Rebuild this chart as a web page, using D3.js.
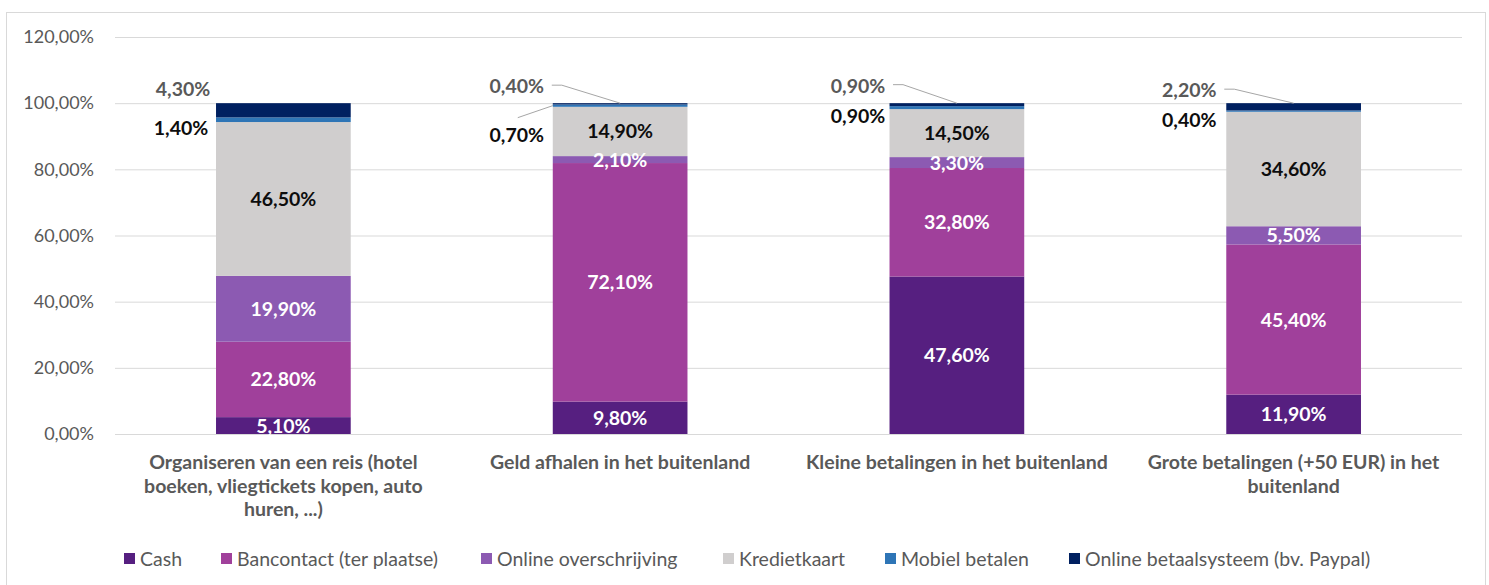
<!DOCTYPE html>
<html>
<head>
<meta charset="utf-8">
<script src="https://cdn.jsdelivr.net/npm/d3@7/dist/d3.min.js"></script>
<style>
  html, body { margin: 0; padding: 0; background: #fff; }
  svg { display: block; font-family: Lato, "Open Sans", sans-serif; }
</style>
</head>
<body>
<svg id="chart" width="1489" height="585"></svg>
<script>
// ---- data ----
const categories = [
  "Organiseren van een reis (hotel boeken, vliegtickets kopen, auto huren, ...)",
  "Geld afhalen in het buitenland",
  "Kleine betalingen in het buitenland",
  "Grote betalingen (+50 EUR) in het buitenland"
];
const categoryLines = [
  ["Organiseren van een reis (hotel", "boeken, vliegtickets kopen, auto", "huren, ...)"],
  ["Geld afhalen in het buitenland"],
  ["Kleine betalingen in het buitenland"],
  ["Grote betalingen (+50 EUR) in het", "buitenland"]
];
const seriesNames = ["Cash", "Bancontact (ter plaatse)", "Online overschrijving", "Kredietkaart", "Mobiel betalen", "Online betaalsysteem (bv. Paypal)"];
const cash = [5.1, 9.8, 47.6, 11.9];
const bancontact = [22.8, 72.1, 32.8, 45.4];
const onlineOverschrijving = [19.9, 2.1, 3.3, 5.5];
const kredietkaart = [46.5, 14.9, 14.5, 34.6];
const mobielBetalen = [1.4, 0.7, 0.9, 0.4];
const onlineBetaalsysteem = [4.3, 0.4, 0.9, 2.2];
const yTicks = [0, 20, 40, 60, 80, 100, 120];

// ---- styles / layout ----
const colors = ["#561F80", "#A0409B", "#8C5AB2", "#D0CECE", "#2E75B6", "#002060"];
const insideLabelColors = ["#ffffff", "#ffffff", "#ffffff", "#0d0d0d"];
// manual label placement (offsets from bar left edge and the 100% line)
const mobielLabelPos = [[-35, 25], [-36, 31.5], [-31.5, 13], [-37, 17]];
const paypalLabelPos = [[-33, -14], [-36, -17], [-31.5, -17.5], [-37, -13]];
const paypalLeader = [false, true, true, true];
const mobielLeader = [false, true, false, false];

const seriesValues = [cash, bancontact, onlineOverschrijving, kredietkaart, mobielBetalen, onlineBetaalsysteem];
const fmt = v => d3.format(".2f")(v).replace(".", ",") + "%";

const svg = d3.select("#chart");
const W = 1489, H = 585;
const margin = { left: 115, right: 27, top: 37, bottom: 151 };
const plotW = W - margin.left - margin.right;

// outer border
svg.append("rect").attr("x", 6.5).attr("y", 12.5).attr("width", 1479).attr("height", 590)
  .attr("fill", "#fff").attr("stroke", "#D9D9D9").attr("stroke-width", 1);

const x = d3.scaleBand().domain(categories).range([margin.left, margin.left + plotW]).paddingInner(0.6).paddingOuter(0.3);
const y = d3.scaleLinear().domain([0, 120]).range([434, 37]);

// gridlines
const yAxis = d3.axisLeft(y).tickValues(yTicks).tickSize(-plotW).tickFormat(fmt).tickPadding(21);
const gy = svg.append("g").attr("transform", `translate(${margin.left},0)`).call(yAxis);
gy.select(".domain").remove();
gy.selectAll(".tick line").attr("stroke", "#D9D9D9").attr("stroke-width", 1);
gy.selectAll(".tick text").attr("fill", "#595959").style("font-size", "18px").style("font-family", "Lato");

// stack
const rows = categories.map((c, i) => {
  const o = { cat: c };
  seriesNames.forEach((s, j) => o[s] = seriesValues[j][i]);
  return o;
});
const stacked = d3.stack().keys(seriesNames)(rows);

const layers = svg.append("g").selectAll("g").data(stacked).join("g")
  .attr("fill", (d, i) => colors[i]);
layers.selectAll("rect").data(d => d).join("rect")
  .attr("x", d => x(d.data.cat))
  .attr("width", x.bandwidth())
  .attr("y", d => y(d[1]))
  .attr("height", d => y(d[0]) - y(d[1]));

// inside labels
const labG = svg.append("g").style("font-size", "19.5px").style("font-weight", "700");
stacked.slice(0, 4).forEach((layer, si) => {
  labG.selectAll(null).data(layer).join("text")
    .attr("x", d => x(d.data.cat) + x.bandwidth() / 2)
    .attr("y", d => (y(d[0]) + y(d[1])) / 2)
    .attr("dy", "0.36em")
    .attr("text-anchor", "middle")
    .attr("fill", insideLabelColors[si])
    .text(d => fmt(d[1] - d[0]));
});

// outside labels: Mobiel betalen
const lead = svg.append("g").attr("stroke", "#A6A6A6").attr("stroke-width", 1).attr("fill", "none");
stacked[4].forEach((d, i) => {
  const bx = x(d.data.cat);
  const lx = bx + mobielLabelPos[i][0], ly = y(100) + mobielLabelPos[i][1];
  labG.append("text").attr("x", lx).attr("y", ly).attr("dy", "0.36em")
    .attr("text-anchor", "middle").attr("fill", "#0d0d0d").text(fmt(d[1] - d[0]));
  if (mobielLeader[i]) {
    lead.append("path").attr("d", d3.line()([[lx + 1, ly - 17], [bx, y((d[0] + d[1]) / 2)]]));
  }
});
// outside labels: Online betaalsysteem
stacked[5].forEach((d, i) => {
  const bx = x(d.data.cat);
  const lx = bx + paypalLabelPos[i][0], ly = y(100) + paypalLabelPos[i][1];
  labG.append("text").attr("x", lx).attr("y", ly).attr("dy", "0.36em")
    .attr("text-anchor", "middle").attr("fill", "#595959").text(fmt(d[1] - d[0]));
  if (paypalLeader[i]) {
    const sx = lx + 35;
    lead.append("path").attr("d", d3.line()([[sx, ly - 1], [sx + 10, ly - 1], [bx + x.bandwidth() / 2, y(d[1])]]));
  }
});

// category labels
const catG = svg.append("g").style("font-size", "19.5px").style("font-weight", "700").attr("fill", "#595959");
categories.forEach((c, i) => {
  const t = catG.append("text").attr("text-anchor", "middle")
    .attr("x", x(c) + x.bandwidth() / 2).attr("y", 469);
  categoryLines[i].forEach((ln, k) => {
    t.append("tspan").attr("x", x(c) + x.bandwidth() / 2).attr("dy", k === 0 ? 0 : 23.5).text(ln);
  });
});

// legend
const legendX = [124, 221, 481, 723, 885, 1069];
const lg = svg.append("g").style("font-size", "19.5px").attr("fill", "#595959");
seriesNames.forEach((s, i) => {
  lg.append("rect").attr("x", legendX[i]).attr("y", 553).attr("width", 11).attr("height", 11).attr("fill", colors[i]);
  lg.append("text").attr("x", legendX[i] + 16).attr("y", 558.5).attr("dy", "0.36em").text(s);
});
</script>
</body>
</html>
